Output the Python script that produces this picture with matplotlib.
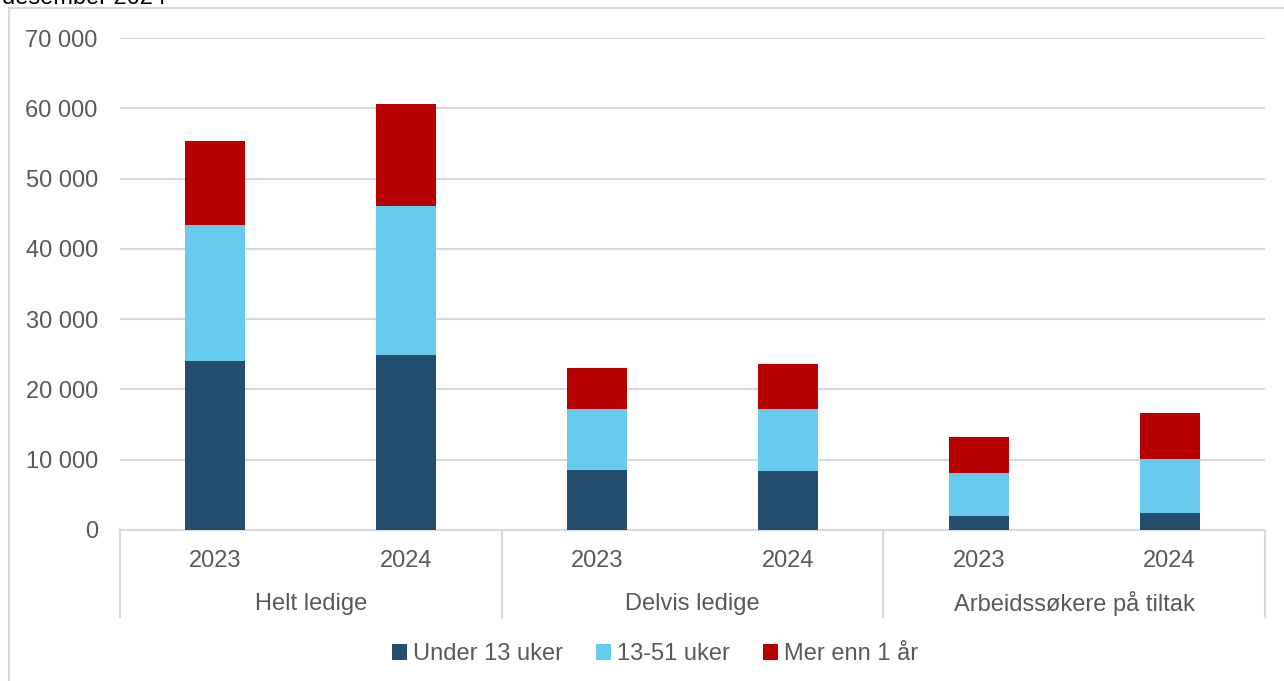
import matplotlib.pyplot as plt
import numpy as np
from matplotlib.patches import Patch
from matplotlib.lines import Line2D
from matplotlib.ticker import FuncFormatter
from matplotlib import rcParams

rcParams['font.family'] = ['Liberation Sans', 'DejaVu Sans']
rcParams['font.size'] = 17

groups = ['Helt ledige', 'Delvis ledige', 'Arbeidssøkere på tiltak']
years = ['2023', '2024']
series_names = ['Under 13 uker', '13-51 uker', 'Mer enn 1 år']
under13 = [24100, 24900, 8550, 8350, 2050, 2450]
uker13_51 = [19300, 21200, 8700, 8900, 6100, 7700]
over1aar = [11900, 14500, 5850, 6300, 5050, 6550]
colors = ['#254E6E', '#66CBEC', '#B90000']
grey_txt = '#595959'
grid_c = '#D9D9D9'

W, H = 1284, 681
fig = plt.figure(figsize=(W / 100, H / 100), dpi=100)
ax = fig.add_axes([120 / W, 1 - 530 / H, (1265 - 120) / W, (530 - 38) / H])

x = np.arange(len(under13))
bottom = np.zeros(len(x))
for vals, c in zip([under13, uker13_51, over1aar], colors):
    ax.bar(x, vals, width=0.314, bottom=bottom, color=c, zorder=3)
    bottom += np.array(vals)

ax.set_xlim(-0.5, len(x) - 0.5)
ax.set_ylim(0, 70000)
ax.set_yticks(np.arange(0, 70001, 10000))
ax.yaxis.set_major_formatter(FuncFormatter(lambda v, p: f'{int(v):,}'.replace(',', ' ')))
ax.grid(axis='y', color=grid_c, linewidth=1.5, zorder=0)
for s in ax.spines.values():
    s.set_visible(False)
ax.tick_params(axis='y', length=0, pad=16, labelcolor=grey_txt)
ax.set_xticks([])

# multi-level category axis
ax.axhline(0, color=grid_c, linewidth=1.5, zorder=2, clip_on=False)
sep_depth = (617 - 530) / (530 - 38)
for b in [-0.5, 1.5, 3.5, 5.5]:
    ax.add_line(Line2D([b, b], [0, -sep_depth], transform=ax.get_xaxis_transform(),
                       color=grid_c, linewidth=1.5, clip_on=False))
for i in x:
    ax.text(i, -(561 - 530) / 492, years[i % 2], transform=ax.get_xaxis_transform(),
            ha='center', va='center', color=grey_txt)
for g, name in enumerate(groups):
    ax.text(2 * g + 0.5, -(604 - 530) / 492, name, transform=ax.get_xaxis_transform(),
            ha='center', va='center', color=grey_txt)

# chart frame (cropped at the picture edge) and title remnant
fig.add_artist(Line2D([9 / W, 9 / W], [0, 1 - 8 / H], color=grid_c, linewidth=1.5))
fig.add_artist(Line2D([9 / W, 1], [1 - 8 / H, 1 - 8 / H], color=grid_c, linewidth=1.5))
fig.text(2 / W, 1 - 4 / H, 'desember 2024', color='black', va='baseline', ha='left')

handles = [Patch(facecolor=c, edgecolor='none') for c in colors]
fig.legend(handles, series_names, loc='center', bbox_to_anchor=(655 / W, 1 - 654 / H),
           ncol=3, frameon=False, handlelength=0.65, handleheight=0.65,
           handletextpad=0.25, columnspacing=1.4, labelcolor=grey_txt)

fig.savefig('out.png', dpi=100)
